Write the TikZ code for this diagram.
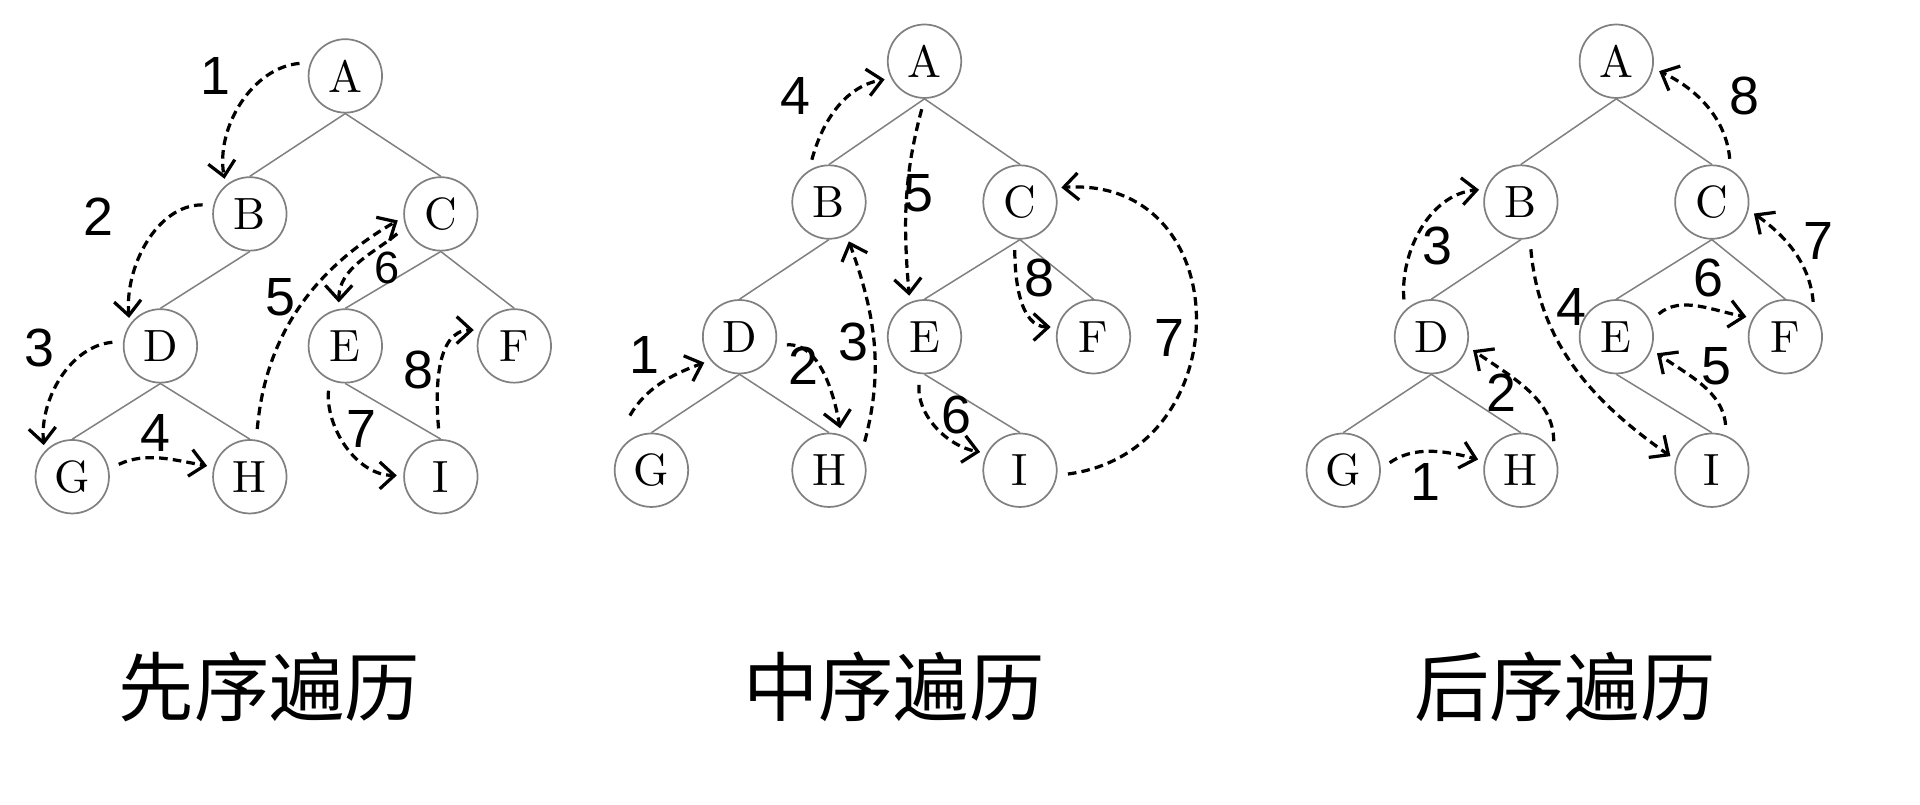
\documentclass[tikz,border=0pt]{standalone}
\usepackage{fontspec}
\usepackage{tikz}
\usetikzlibrary{arrows.meta}
\newfontfamily\cjkfont{Noto Sans CJK SC}
\newfontfamily\digitfont{Liberation Sans}

\begin{document}
\begin{tikzpicture}[vtx/.style={circle, draw=gray, line width=0.4pt, minimum size=6mm, inner sep=0pt, font=\fontsize{10.5}{10.5}\selectfont},
	edge/.style={gray, line width=0.35pt},
	trav/.style={dash pattern=on 2pt off 1.2pt, line width=0.75pt, shorten <=2.5pt, shorten >=1.5pt, -{Straight Barb[length=1.2mm,width=2.2mm]}},
	num/.style={font=\digitfont\fontsize{12.5}{12.5}\selectfont},
	title/.style={font=\cjkfont\fontsize{17.5}{17.5}\selectfont}]
	\useasboundingbox (0,0) rectangle (15.68,6.57);
	\foreach \tr/\x/\y/\s in {pre/2.82/5.95/0.98, in/7.55/6.07/1, post/13.20/6.07/1} {
		\begin{scope}[shift={(\x,\y)}, yscale=\s]
			\node[vtx] (\tr A) at (0,0) {A};
			\node[vtx] (\tr B) at (-0.78,-1.15) {B};
			\node[vtx] (\tr C) at (0.78,-1.15) {C};
			\node[vtx] (\tr D) at (-1.51,-2.25) {D};
			\node[vtx] (\tr E) at (0,-2.25) {E};
			\node[vtx] (\tr F) at (1.38,-2.25) {F};
			\node[vtx] (\tr G) at (-2.23,-3.34) {G};
			\node[vtx] (\tr H) at (-0.78,-3.34) {H};
			\node[vtx] (\tr I) at (0.78,-3.34) {I};
			\draw[edge] (\tr A.south) -- (\tr B.north) (\tr A.south) -- (\tr C.north)
				(\tr B.south) -- (\tr D.north) (\tr C.south) -- (\tr E.north) (\tr C.south) -- (\tr F.north)
				(\tr D.south) -- (\tr G.north) (\tr D.south) -- (\tr H.north) (\tr E.south) -- (\tr I.north);
		\end{scope}
	}
	% preorder
	\draw[trav] (preA.159) to[out=185,in=100] (preB.130);
	\draw[trav] (preB.166) to[out=180,in=95] (preD.145);
	\draw[trav] (preD.173) to[out=185,in=95] (preG.138);
	\draw[trav] (preG.12) to[out=25,in=170] (preH.165);
	\draw[trav] (preH.80) to[out=85,in=210] (preC.185);
	\draw[trav] (preC.200) to[out=220,in=90] (preE.100);
	\draw[trav] (preE.245) to[out=265,in=180] (preI.178);
	\draw[trav] (preI.92) to[out=95,in=180] (preF.155);
	\node[num] (pre1) at (1.76,5.95) {1};
	\node[num] (pre2) at (0.80,4.80) {2};
	\node[num] (pre3) at (0.32,3.73) {3};
	\node[num] (pre4) at (1.27,3.03) {4};
	\node[num] (pre5) at (2.29,4.14) {5};
	\node[num, font=\digitfont\fontsize{10.5}{10.5}\selectfont] (pre6) at (3.16,4.38) {6};
	\node[num] (pre7) at (2.95,3.07) {7};
	\node[num] (pre8) at (3.42,3.55) {8};
	% inorder
	\coordinate (inStart) at (5.10,3.10);
	\draw[trav] (inStart) to[out=60,in=200] (inD.219);
	\draw[trav] (inD.-14) to[out=5,in=100] (inH.71);
	\draw[trav] (inH.29) to[out=75,in=-70] (inB.-62);
	\draw[trav] (inB.122) to[out=75,in=190] (inA.207);
	\draw[trav] (inA.270) to[out=255,in=95] (inE.113);
	\draw[trav] (inE.263) to[out=265,in=170] (inI.153);
	\draw[trav] (inI.-8) .. controls +(1.5,0.2) and +(1.5,0.1) .. (inC.22);
	\draw[trav] (inC.262) to[out=270,in=180] (inF.165);
	\node[num] (in1) at (5.26,3.67) {1};
	\node[num] (in2) at (6.56,3.58) {2};
	\node[num] (in3) at (6.97,3.78) {3};
	\node[num] (in4) at (6.50,5.79) {4};
	\node[num] (in5) at (7.50,4.99) {5};
	\node[num] (in6) at (7.81,3.18) {6};
	\node[num] (in7) at (9.55,3.81) {7};
	\node[num] (in8) at (8.49,4.30) {8};
	% postorder
	\draw[trav] (postG.2) to[out=35,in=165] (postH.166);
	\draw[trav] (postH.29) to[out=90,in=-35] (postD.-15);
	\draw[trav] (postD.135) to[out=95,in=185] (postB.160);
	\draw[trav] (postB.-76) to[out=-85,in=145] (postI.164);
	\draw[trav] (postI.67) to[out=95,in=-35] (postE.-20);
	\draw[trav] (postE.25) to[out=40,in=170] (postF.150);
	\draw[trav] (postF.40) to[out=95,in=-35] (postC.-12);
	\draw[trav] (postC.60) to[out=95,in=-25] (postA.-11);
	\node[num] (post1) at (11.64,2.63) {1};
	\node[num] (post2) at (12.26,3.36) {2};
	\node[num] (post3) at (11.74,4.56) {3};
	\node[num] (post4) at (12.83,4.06) {4};
	\node[num] (post5) at (14.02,3.58) {5};
	\node[num] (post6) at (13.95,4.30) {6};
	\node[num] (post7) at (14.85,4.60) {7};
	\node[num] (post8) at (14.25,5.79) {8};
	\node[title] (preT) at (2.20,0.96) {先序遍历};
	\node[title] (inT) at (7.30,0.96) {中序遍历};
	\node[title] (postT) at (12.78,0.96) {后序遍历};
\end{tikzpicture}
\end{document}
